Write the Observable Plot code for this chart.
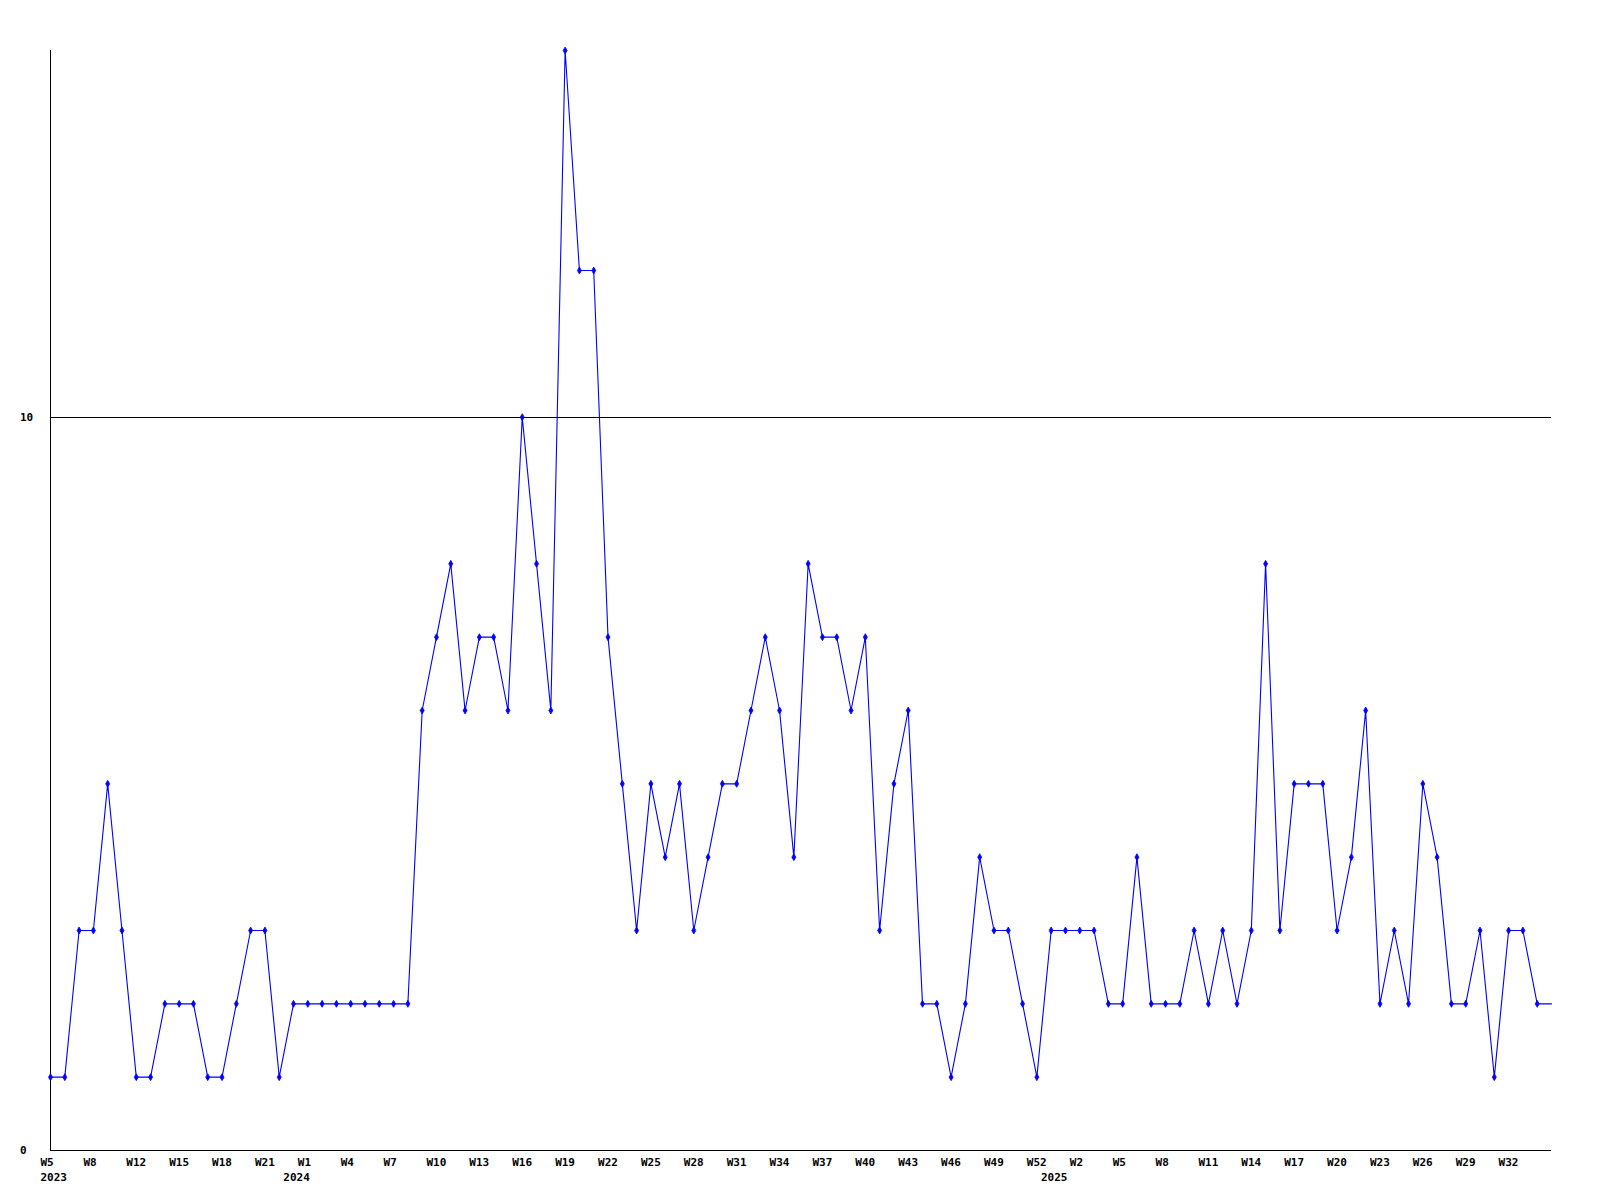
<!DOCTYPE html>
<html>
<head>
<meta charset="utf-8">
<script src="https://cdn.jsdelivr.net/npm/d3@7"></script>
<script src="https://cdn.jsdelivr.net/npm/@observablehq/plot@0.6"></script>
<style>
  html, body { margin: 0; padding: 0; background: #fff; }
  svg text { font-family: "DejaVu Sans Mono", monospace; font-weight: bold; }
</style>
</head>
<body>
<div id="chart"></div>
<script>
// Weekly counts, 2023 W5 .. 2025 W34 (last value continues to the frame edge)
const values = [
  1,1,3,3,5,3,1,1,2,2,
  2,1,1,2,3,3,1,2,2,2,
  2,2,2,2,2,2,6,7,8,6,
  7,7,6,10,8,6,15,12,12,7,
  5,3,5,4,5,3,4,5,5,6,
  7,6,4,8,7,7,6,7,3,5,
  6,2,2,1,2,4,3,3,2,1,
  3,3,3,3,2,2,4,2,2,2,
  3,2,3,2,3,8,3,5,5,5,
  3,4,6,2,3,2,5,4,2,2,
  3,1,3,3,2,2
];
// Week tick labels, one every third data point
const weekLabels = [
  "W5","W8","W12","W15","W18","W21",
  "W1","W4","W7","W10","W13","W16","W19","W22","W25","W28","W31","W34","W37","W40","W43","W46","W49","W52",
  "W2","W5","W8","W11","W14","W17","W20","W23","W26","W29","W32"
];
const tickStep = 3;
// Year labels and the data point index they belong to
const yearNames = ["2023", "2024", "2025"];
const yearIndex = [0, 18, 71];
const yTicks = [0, 10];

const points = values.map((v, i) => ({i, v}));
const markers = points.slice(0, points.length - 1);
const tickIdx = weekLabels.map((_, k) => k * tickStep);
const years = yearNames.map((y, k) => ({y, i: yearIndex[k], first: k === 0}));

const chart = Plot.plot({
  width: 1600,
  height: 1200,
  marginLeft: 50,
  marginRight: 49,
  marginTop: 50,
  marginBottom: 50,
  style: {background: "#fff", color: "#000", fontSize: "11px", fontFamily: "DejaVu Sans Mono, monospace"},
  x: {type: "linear", domain: [0, values.length - 1]},
  y: {domain: [0, 15]},
  marks: [
    Plot.ruleY([10], {stroke: "#000", strokeWidth: 1, shapeRendering: "crispEdges"}),
    Plot.ruleY([0], {stroke: "#000", strokeWidth: 1, shapeRendering: "crispEdges"}),
    Plot.ruleX([0], {stroke: "#000", strokeWidth: 1, shapeRendering: "crispEdges"}),
    Plot.axisY(yTicks, {
      tickSize: 0, tickPadding: 0, textAnchor: "start", dx: -30.5,
      tickFormat: d => String(d), fontSize: 11, fontWeight: "bold", fill: "#000", label: null
    }),
    Plot.axisX(tickIdx, {
      tickSize: 0, tickPadding: 8, textAnchor: "start", dx: -10,
      tickFormat: d => weekLabels[d / tickStep], fontSize: 11, fontWeight: "bold", fill: "#000", label: null
    }),
    Plot.text(years.filter(d => d.first), {
      x: "i", text: "y", frameAnchor: "bottom", lineAnchor: "top", dy: 22.5, dx: -10,
      textAnchor: "start", fontSize: 11, fontWeight: "bold", fill: "#000"
    }),
    Plot.text(years.filter(d => !d.first), {
      x: "i", text: "y", frameAnchor: "bottom", lineAnchor: "top", dy: 22.5, dx: 2,
      textAnchor: "end", fontSize: 11, fontWeight: "bold", fill: "#000"
    }),
    Plot.line(points, {x: "i", y: "v", stroke: "#0000ff", strokeWidth: 1.1}),
    Plot.dot(markers, {x: "i", y: "v", symbol: "diamond", r: 2.1, fill: "#0000ff", stroke: "#0000ff", strokeWidth: 0.8})
  ]
});
document.getElementById("chart").appendChild(chart);
</script>
</body>
</html>
